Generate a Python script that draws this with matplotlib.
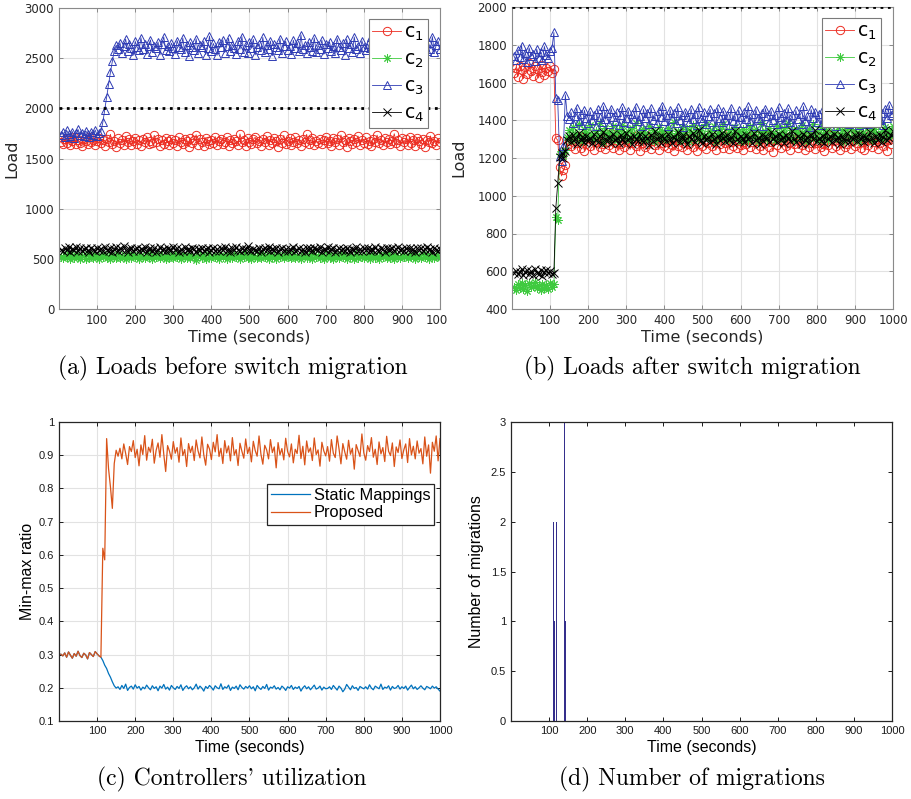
import numpy as np
import matplotlib
matplotlib.use('Agg')
import matplotlib.pyplot as plt
from matplotlib.ticker import FormatStrFormatter
from matplotlib.transforms import Bbox, TransformedBbox

# sample times (seconds)
time = np.arange(5, 1001, 5)

# ---------------- (a) loads before switch migration ----------------
a_c1 = [1668,1642,1691,1655,1703,1630,1677,1712,1648,1685,1659,1622,1697,1671,1640,1718,1663,1689,1634,1676,
        1705,1651,1683,1627,1694,1666,1741,1645,1679,1614,1700,1657,1686,1632,1722,1661,1693,1638,1674,1709,
        1649,1682,1625,1698,1669,1715,1641,1677,1656,1731,1663,1692,1620,1684,1647,1706,1672,1636,1699,1658,
        1688,1629,1713,1665,1644,1696,1674,1618,1703,1652,1680,1737,1639,1691,1661,1625,1708,1670,1646,1685,
        1657,1719,1633,1678,1699,1642,1664,1711,1626,1687,1654,1694,1673,1637,1745,1660,1681,1622,1701,1667,
        1643,1690,1712,1650,1676,1628,1697,1663,1720,1639,1684,1655,1705,1671,1617,1693,1659,1730,1646,1679,
        1700,1635,1668,1714,1651,1688,1624,1696,1662,1741,1645,1683,1709,1631,1674,1657,1699,1640,1686,1718,
        1653,1677,1627,1702,1666,1692,1638,1735,1660,1681,1619,1707,1672,1648,1695,1663,1724,1634,1689,1656,
        1710,1644,1679,1621,1698,1669,1733,1651,1686,1630,1704,1661,1692,1641,1676,1747,1655,1682,1626,1700,
        1665,1691,1637,1715,1658,1684,1629,1706,1673,1645,1697,1619,1688,1662,1725,1650,1679,1634,1701,1668]
a_c2 = [522,508,537,515,545,499,528,511,540,518,503,533,524,496,547,513,530,506,538,519,
        501,535,516,543,509,527,494,539,521,512,548,505,531,517,498,542,525,510,536,514,
        529,497,541,519,507,534,523,550,502,526,515,544,509,532,520,495,539,513,527,504,
        546,518,531,500,537,522,511,543,507,529,516,493,540,524,512,535,498,545,520,509,
        533,514,526,502,541,517,531,496,538,521,508,547,515,530,503,536,519,544,510,527,
        499,542,523,511,534,506,549,518,529,501,537,514,525,497,543,520,532,507,539,516,
        528,504,546,513,531,519,495,540,526,509,535,522,502,548,517,530,511,537,500,524,
        541,512,529,498,536,521,507,544,515,532,503,539,518,527,494,545,510,533,520,506,
        538,516,501,543,524,511,530,497,540,519,535,508,547,513,526,502,539,521,509,534,
        518,531,505,542,514,527,499,536,523,510,545,517,532,496,538,520,508,541,525,512]
a_c3 = [1738,1762,1715,1781,1744,1726,1769,1709,1752,1790,1731,1758,1720,1775,1747,1712,1766,1736,1784,1729,
        1755,1770,1860,1985,2110,2240,2360,2470,2575,2630,2588,2655,2547,2621,2690,2570,2638,2602,2529,2667,
        2611,2578,2704,2593,2645,2540,2626,2682,2559,2617,2598,2661,2532,2640,2712,2581,2623,2567,2650,2604,
        2543,2676,2615,2590,2701,2562,2634,2519,2658,2609,2585,2693,2551,2629,2612,2668,2536,2600,2720,2574,
        2647,2592,2528,2663,2607,2684,2556,2619,2698,2571,2636,2603,2545,2672,2590,2715,2564,2627,2552,2659,
        2598,2687,2533,2616,2645,2579,2707,2561,2632,2594,2671,2525,2640,2608,2586,2695,2550,2624,2669,2583,
        2617,2540,2679,2601,2656,2568,2733,2589,2635,2547,2662,2610,2574,2702,2557,2628,2595,2680,2538,2644,
        2606,2664,2571,2625,2548,2696,2614,2585,2650,2529,2688,2602,2637,2566,2711,2591,2622,2553,2674,2609,
        2580,2645,2597,2706,2562,2631,2544,2668,2615,2592,2727,2575,2639,2550,2660,2604,2688,2569,2626,2599,
        2652,2563,2697,2612,2534,2641,2587,2678,2606,2555,2683,2620,2573,2649,2596,2714,2560,2631,2670,2588]
a_c4 = [593,578,607,584,615,571,598,589,620,581,603,574,596,612,586,567,604,591,580,610,
        588,601,575,617,592,583,608,569,597,614,579,605,590,624,585,572,600,611,582,594,
        606,577,599,586,618,573,595,609,581,603,566,591,613,587,598,576,610,593,584,621,
        590,604,571,597,582,616,588,602,578,609,594,565,600,585,612,579,596,607,573,589,
        611,583,595,576,605,592,619,580,598,570,603,587,614,591,577,608,584,599,625,586,
        574,602,593,581,610,568,596,606,589,615,579,600,585,612,572,594,604,583,597,578,
        601,587,616,575,592,609,582,598,567,606,590,611,579,603,594,586,618,573,600,588,
        613,580,596,604,571,591,607,584,599,577,610,593,565,602,588,615,582,597,576,605,
        589,609,574,600,586,617,592,578,603,595,570,611,584,598,607,581,594,622,587,601,
        576,605,591,612,583,597,569,604,588,610,580,596,614,585,600,573,608,592,579,595]

# ---------------- (b) loads after switch migration ----------------
b_c1 = [1652,1678,1631,1690,1664,1620,1683,1647,1701,1659,1636,1688,1670,1624,1695,1655,1641,1679,1663,1686,
        1648,1672,1305,1295,1150,1105,1135,1165,1270,1288,1262,1301,1247,1279,1316,1255,1290,1238,1272,1309,
        1266,1294,1242,1283,1321,1258,1276,1303,1249,1287,1268,1331,1253,1280,1297,1240,1274,1312,1260,1285,
        1299,1245,1278,1318,1264,1292,1236,1281,1306,1257,1273,1340,1250,1289,1269,1302,1243,1277,1314,1261,
        1284,1251,1307,1270,1239,1295,1262,1325,1256,1282,1300,1244,1276,1311,1258,1290,1237,1273,1304,1266,
        1293,1248,1281,1319,1261,1287,1241,1298,1272,1335,1254,1279,1306,1246,1284,1265,1313,1252,1288,1270,
        1243,1297,1275,1309,1257,1283,1327,1249,1291,1263,1302,1240,1278,1316,1259,1286,1234,1296,1271,1308,
        1255,1289,1318,1262,1280,1245,1301,1274,1337,1251,1285,1267,1311,1242,1293,1260,1277,1320,1247,1282,
        1305,1258,1276,1239,1296,1269,1322,1253,1288,1264,1310,1244,1281,1299,1256,1275,1341,1249,1290,1266,
        1278,1312,1252,1287,1240,1294,1268,1326,1257,1283,1303,1246,1279,1315,1261,1291,1238,1296,1272,1328]
b_c2 = [518,503,532,511,540,507,526,498,537,515,522,544,509,529,501,535,513,527,505,538,
        517,535,890,872,1220,1235,1210,1245,1312,1348,1296,1365,1327,1304,1381,1318,1290,1352,1336,1309,
        1374,1322,1299,1345,1310,1388,1331,1286,1357,1319,1340,1302,1369,1325,1294,1350,1314,1377,1333,1306,
        1343,1297,1361,1320,1385,1311,1338,1293,1355,1327,1302,1372,1316,1349,1289,1334,1364,1308,1345,1323,
        1299,1358,1330,1312,1392,1319,1341,1295,1366,1326,1307,1351,1289,1338,1375,1314,1347,1301,1359,1329,
        1317,1382,1304,1344,1323,1367,1292,1335,1354,1310,1378,1321,1297,1349,1331,1305,1363,1318,1342,1288,
        1356,1314,1337,1296,1371,1328,1309,1352,1290,1340,1384,1316,1345,1300,1361,1325,1334,1293,1368,1311,
        1339,1302,1359,1320,1387,1313,1347,1295,1356,1330,1306,1373,1319,1342,1288,1353,1324,1379,1308,1336,
        1298,1364,1327,1310,1350,1293,1383,1321,1339,1304,1362,1316,1348,1291,1333,1370,1312,1355,1300,1344,
        1323,1290,1360,1335,1307,1376,1319,1346,1296,1354,1328,1389,1311,1341,1303,1366,1322,1349,1315,1372]
b_c3 = [1742,1718,1771,1735,1796,1724,1758,1707,1783,1739,1750,1713,1777,1731,1762,1720,1791,1744,1728,1769,
        1785,1865,1520,1505,1210,1185,1265,1535,1425,1408,1442,1383,1420,1466,1395,1431,1374,1453,1412,1388,
        1447,1401,1428,1370,1459,1416,1392,1475,1405,1436,1380,1462,1419,1398,1444,1373,1427,1469,1390,1414,
        1451,1385,1433,1406,1472,1397,1424,1368,1457,1411,1439,1378,1465,1403,1421,1387,1448,1415,1477,1394,
        1429,1372,1455,1409,1440,1383,1468,1399,1426,1364,1446,1418,1391,1460,1404,1435,1376,1471,1413,1397,
        1443,1381,1422,1458,1393,1437,1369,1464,1410,1389,1449,1402,1430,1375,1467,1396,1425,1383,1454,1417,
        1386,1445,1407,1473,1394,1432,1371,1456,1412,1399,1438,1367,1461,1420,1389,1450,1403,1427,1378,1470,
        1415,1384,1441,1400,1463,1392,1428,1373,1452,1408,1435,1381,1474,1396,1423,1365,1457,1411,1446,1390,
        1434,1377,1459,1404,1428,1385,1466,1398,1440,1370,1453,1416,1391,1478,1406,1437,1380,1462,1418,1395,
        1448,1374,1425,1469,1397,1431,1382,1455,1409,1442,1387,1465,1401,1436,1376,1460,1414,1480,1429,1438]
b_c4 = [591,603,584,598,610,579,595,606,588,600,582,612,593,586,604,577,597,609,589,601,
        585,592,935,1065,1205,1225,1200,1235,1298,1314,1287,1322,1301,1276,1330,1295,1309,1283,1318,1292,
        1306,1279,1325,1298,1286,1316,1273,1340,1303,1289,1312,1281,1327,1296,1308,1278,1321,1300,1285,1334,
        1294,1311,1276,1319,1302,1288,1329,1297,1283,1314,1305,1271,1324,1292,1343,1299,1310,1282,1317,1304,
        1289,1326,1301,1277,1313,1296,1338,1285,1308,1320,1293,1274,1315,1302,1331,1287,1306,1348,1298,1281,
        1319,1295,1309,1284,1327,1300,1275,1316,1293,1335,1304,1288,1322,1297,1312,1279,1345,1303,1290,1318,
        1302,1286,1324,1299,1311,1280,1333,1296,1307,1273,1320,1291,1314,1305,1287,1339,1300,1317,1283,1326,
        1297,1313,1278,1321,1304,1290,1342,1299,1285,1316,1308,1276,1328,1294,1311,1282,1323,1302,1347,1288,
        1306,1292,1319,1281,1336,1300,1315,1287,1325,1296,1310,1274,1318,1303,1292,1330,1284,1313,1299,1321,
        1289,1327,1301,1316,1283,1309,1295,1337,1304,1280,1319,1298,1324,1287,1312,1350,1296,1308,1322,1341]

capacity = 2000

# ---------------- (c) controllers' utilization ----------------
static_ratio = [0.301,0.296,0.305,0.292,0.308,0.298,0.289,0.303,0.295,0.310,0.297,0.291,0.304,0.299,0.287,0.306,0.300,0.294,0.309,0.302,
                0.296,0.292,0.282,0.268,0.258,0.243,0.232,0.218,0.206,0.199,0.203,0.195,0.207,0.198,0.211,0.192,0.201,0.205,0.196,0.209,
                0.199,0.204,0.193,0.202,0.197,0.208,0.200,0.194,0.206,0.198,0.203,0.191,0.205,0.199,0.210,0.196,0.202,0.193,0.207,0.200,
                0.195,0.204,0.198,0.209,0.192,0.201,0.206,0.197,0.203,0.194,0.200,0.211,0.196,0.205,0.199,0.190,0.204,0.198,0.207,0.201,
                0.193,0.206,0.200,0.197,0.212,0.195,0.203,0.199,0.208,0.192,0.202,0.198,0.205,0.194,0.209,0.201,0.196,0.204,0.199,0.206,
                0.197,0.203,0.191,0.207,0.200,0.195,0.204,0.198,0.210,0.193,0.202,0.199,0.206,0.196,0.201,0.194,0.205,0.200,0.192,0.203,
                0.199,0.207,0.195,0.202,0.198,0.204,0.190,0.200,0.206,0.197,0.203,0.194,0.201,0.208,0.196,0.199,0.205,0.193,0.202,0.197,
                0.198,0.203,0.195,0.207,0.200,0.193,0.205,0.199,0.188,0.196,0.210,0.202,0.194,0.206,0.198,0.201,0.192,0.204,0.200,0.197,
                0.203,0.196,0.209,0.199,0.194,0.205,0.201,0.197,0.211,0.195,0.202,0.199,0.206,0.193,0.204,0.198,0.200,0.207,0.196,0.203,
                0.198,0.205,0.193,0.201,0.208,0.197,0.203,0.195,0.200,0.206,0.199,0.194,0.204,0.201,0.197,0.205,0.199,0.203,0.196,0.190]
proposed_ratio = [0.301,0.296,0.305,0.292,0.308,0.298,0.289,0.303,0.295,0.310,0.297,0.291,0.304,0.299,0.287,0.306,0.300,0.294,0.309,0.302,
                  0.296,0.292,0.620,0.585,0.950,0.860,0.805,0.740,0.875,0.915,0.897,0.921,0.889,0.934,0.905,0.872,0.926,0.911,0.944,0.893,
                  0.918,0.868,0.931,0.902,0.959,0.885,0.924,0.909,0.948,0.876,0.915,0.937,0.894,0.962,0.903,0.851,0.929,0.912,0.888,0.941,
                  0.906,0.923,0.879,0.952,0.899,0.917,0.866,0.935,0.908,0.927,0.884,0.946,0.913,0.892,0.955,0.901,0.870,0.933,0.919,0.887,
                  0.939,0.910,0.962,0.896,0.921,0.875,0.944,0.907,0.928,0.883,0.953,0.900,0.917,0.869,0.936,0.912,0.891,0.949,0.905,0.924,
                  0.880,0.942,0.914,0.897,0.958,0.903,0.873,0.930,0.916,0.889,0.947,0.908,0.925,0.862,0.938,0.901,0.920,0.886,0.951,0.911,
                  0.895,0.934,0.877,0.918,0.905,0.960,0.890,0.927,0.871,0.943,0.909,0.922,0.884,0.952,0.902,0.916,0.867,0.939,0.913,0.898,
                  0.926,0.882,0.947,0.906,0.893,0.958,0.919,0.874,0.935,0.910,0.888,0.945,0.903,0.921,0.858,0.932,0.914,0.896,0.964,0.907,
                  0.885,0.929,0.911,0.953,0.894,0.918,0.872,0.940,0.904,0.923,0.881,0.957,0.912,0.899,0.937,0.866,0.925,0.908,0.946,0.890,
                  0.916,0.934,0.878,0.950,0.901,0.927,0.889,0.943,0.906,0.920,0.874,0.955,0.897,0.931,0.846,0.939,0.912,0.958,0.883,0.950]

# ---------------- (d) number of migrations ----------------
mig_time = [112, 114, 119, 141, 143]
mig_count = [2, 1, 2, 3, 1]

series_labels = [r'$\mathregular{c_1}$', r'$\mathregular{c_2}$', r'$\mathregular{c_3}$', r'$\mathregular{c_4}$']
series_style = [dict(color='#ec2d22', marker='o'),
                dict(color='#3fca3f', marker=(8, 2, 0)),
                dict(color='#2f3cb4', marker='^'),
                dict(color='#000000', marker='x')]

W, H = 912, 799
fig = plt.figure(figsize=(W / 100, H / 100), dpi=100)


def px_axes(left, top, right, bottom):
    return fig.add_axes([left / W, 1 - bottom / H, (right - left) / W, (bottom - top) / H])


def load_panel(ax, series, ylim, yticks, ylabelpad):
    for vals, lab, st in zip(series, series_labels, series_style):
        ax.plot(time, vals, '-', lw=0.6, ms=6, mfc='none', mew=0.7, label=lab, **st)
    ax.axhline(capacity, color='k', ls=':', lw=2, zorder=5)
    ax.set_xlim(0, 1000)
    ax.set_ylim(*ylim)
    ax.set_xticks(range(100, 1001, 100))
    ax.set_yticks(yticks)
    ax.grid(True, color='#e2e2e2', lw=0.8)
    ax.set_axisbelow(True)
    ax.tick_params(direction='in', top=True, right=True, length=3, width=0.6,
                   color='#7a7a7a', labelcolor='#262626', labelsize=8.5)
    for s in ax.spines.values():
        s.set_color('#8a8a8a')
        s.set_linewidth(0.8)
    ax.set_xlabel('Time (seconds)', fontsize=11.5, color='#262626', labelpad=2)
    ax.set_ylabel('Load', fontsize=11.5, color='#262626', labelpad=ylabelpad)
    leg = ax.legend(loc='upper right', bbox_to_anchor=(0.969, 0.963), fontsize=13.5,
                    handlelength=1.5, labelspacing=0.35, borderpad=0.2, handletextpad=0.2,
                    borderaxespad=0, fancybox=False, framealpha=1, edgecolor='#7a7a7a')
    leg.get_frame().set_linewidth(0.8)


plt.rcParams['font.family'] = 'DejaVu Sans'

ax_a = px_axes(59, 8, 440, 309)
load_panel(ax_a, [a_c1, a_c2, a_c3, a_c4], (0, 3000), range(0, 3001, 500), 4)

ax_b = px_axes(512, 7, 893, 309)
load_panel(ax_b, [b_c1, b_c2, b_c3, b_c4], (400, 2000), range(400, 2001, 200), 8)

# the subfigure crop cuts the last tick label of (a)
last = ax_a.xaxis.get_major_ticks()[-1].label1
last.set_clip_on(True)
last.set_clip_box(TransformedBbox(Bbox([[0, 0], [447 / W, 1]]), fig.transFigure))

helv = 'Liberation Sans'

ax_c = px_axes(59, 422, 440, 721)
ax_c.plot(time, static_ratio, color='#0072bd', lw=0.9, label='Static Mappings')
ax_c.plot(time, proposed_ratio, color='#d95319', lw=0.9, label='Proposed')
ax_c.set_xlim(0, 1000)
ax_c.set_ylim(0.1, 1)
ax_c.set_xticks(range(100, 1001, 100))
ax_c.set_yticks(np.arange(0.1, 1.01, 0.1))
ax_c.yaxis.set_major_formatter(FormatStrFormatter('%g'))
ax_c.grid(True, color='#e2e2e2', lw=0.8)
ax_c.set_axisbelow(True)
ax_c.set_xlabel('Time (seconds)', fontsize=11.5, fontfamily=helv, labelpad=3)
ax_c.set_ylabel('Min-max ratio', fontsize=11.5, fontfamily=helv, labelpad=3)
leg = ax_c.legend(loc='upper right', bbox_to_anchor=(0.985, 0.793),
                  prop={'family': helv, 'size': 11.8}, handlelength=2.4, labelspacing=0.15,
                  borderpad=0.25, handletextpad=0.2, borderaxespad=0,
                  fancybox=False, framealpha=1, edgecolor='#262626')
leg.get_frame().set_linewidth(0.9)

ax_d = px_axes(511, 422, 892, 721)
ax_d.bar(mig_time, mig_count, width=1.6, color='#352f8c', lw=0)
ax_d.set_xlim(0, 1000)
ax_d.set_ylim(0, 3)
ax_d.set_xticks(range(100, 1001, 100))
ax_d.set_yticks(np.arange(0, 3.01, 0.5))
ax_d.yaxis.set_major_formatter(FormatStrFormatter('%g'))
ax_d.set_xlabel('Time (seconds)', fontsize=11.5, fontfamily=helv, labelpad=3)
ax_d.set_ylabel('Number of migrations', fontsize=11.5, fontfamily=helv, labelpad=5)

for ax in (ax_c, ax_d):
    ax.tick_params(direction='in', top=True, right=True, length=3, width=0.7,
                   colors='#1a1a1a', labelsize=8)
    for lab in ax.get_xticklabels() + ax.get_yticklabels():
        lab.set_fontfamily(helv)
    for s in ax.spines.values():
        s.set_color('#262626')
        s.set_linewidth(0.9)

captions = ['(a) Loads before switch migration', '(b) Loads after switch migration',
            "(c) Controllers' utilization", '(d) Number of migrations']
cap_pos = [(233, 368), (692, 368), (232, 779), (692, 779)]
for txt, (cx, cy) in zip(captions, cap_pos):
    fig.text(cx / W, 1 - cy / H, txt, ha='center', va='center', fontfamily='cmr10', fontsize=17)

fig.savefig('out.png', dpi=100)
